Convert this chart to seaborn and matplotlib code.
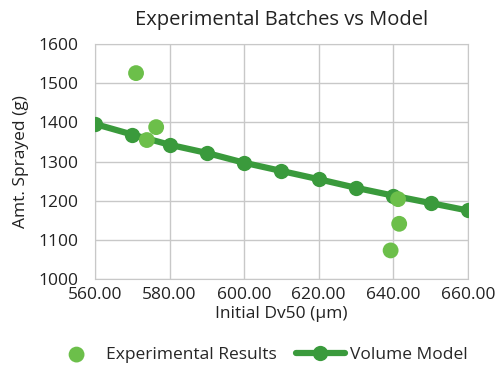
import matplotlib
matplotlib.use("Agg")
import matplotlib.pyplot as plt
import seaborn as sns
import pandas as pd

# Experimental batches
exp_dv50 = [571.0, 573.9, 576.4, 639.3, 641.3, 641.6]
exp_sprayed = [1526, 1355, 1388, 1073, 1204, 1141]

# Volume model
model_dv50 = [560, 570, 580, 590, 600, 610, 620, 630, 640, 650, 660]
model_sprayed = [1396, 1369, 1343, 1322, 1297, 1276, 1255, 1233, 1213, 1194, 1175]

exp_df = pd.DataFrame({"dv50": exp_dv50, "sprayed": exp_sprayed})
model_df = pd.DataFrame({"dv50": model_dv50, "sprayed": model_sprayed})

sns.set_style("white")
plt.rcParams["font.family"] = ["Open Sans", "DejaVu Sans"]

fig = plt.figure(figsize=(4.95, 3.71), dpi=100)
ax = fig.add_axes([0.192, 0.248, 0.753, 0.633])

sns.lineplot(data=model_df, x="dv50", y="sprayed", ax=ax, color="#3a9a3c",
             linewidth=4.5, marker="o", markersize=11, markeredgewidth=0,
             label="Volume Model", zorder=3)
sns.scatterplot(data=exp_df, x="dv50", y="sprayed", ax=ax, color="#6cbf4a",
                s=130, edgecolor="none", label="Experimental Results", zorder=4)

ax.set_xlim(560, 660)
ax.set_ylim(1000, 1600)
ax.set_xticks(range(560, 661, 20))
ax.set_xticklabels([f"{v:.2f}" for v in range(560, 661, 20)])
ax.set_yticks(range(1000, 1601, 100))
ax.grid(True, color="#c8c8c8", linewidth=1)
for s in ax.spines.values():
    s.set_color("#c8c8c8")
ax.tick_params(labelsize=12.5, colors="#222222", length=0)
ax.tick_params(axis="x", pad=6)
ax.tick_params(axis="y", pad=12)
ax.set_xlabel("Initial Dv50 (µm)", fontsize=12.5, color="#222222", labelpad=2)
ax.set_ylabel("Amt. Sprayed (g)", fontsize=12.5, color="#222222", labelpad=7)
ax.set_title("Experimental Batches vs Model", fontsize=14.5, color="#222222", pad=14)

handles, labels = ax.get_legend_handles_labels()
order = [labels.index("Experimental Results"), labels.index("Volume Model")]
ax.get_legend().remove()
fig.legend([handles[i] for i in order], [labels[i] for i in order],
           loc="center", bbox_to_anchor=(0.525, 0.043), ncol=2,
           frameon=False, fontsize=12.5, handlelength=2.8, columnspacing=1.1,
           handletextpad=0.3)

fig.savefig("out.png", dpi=100)
